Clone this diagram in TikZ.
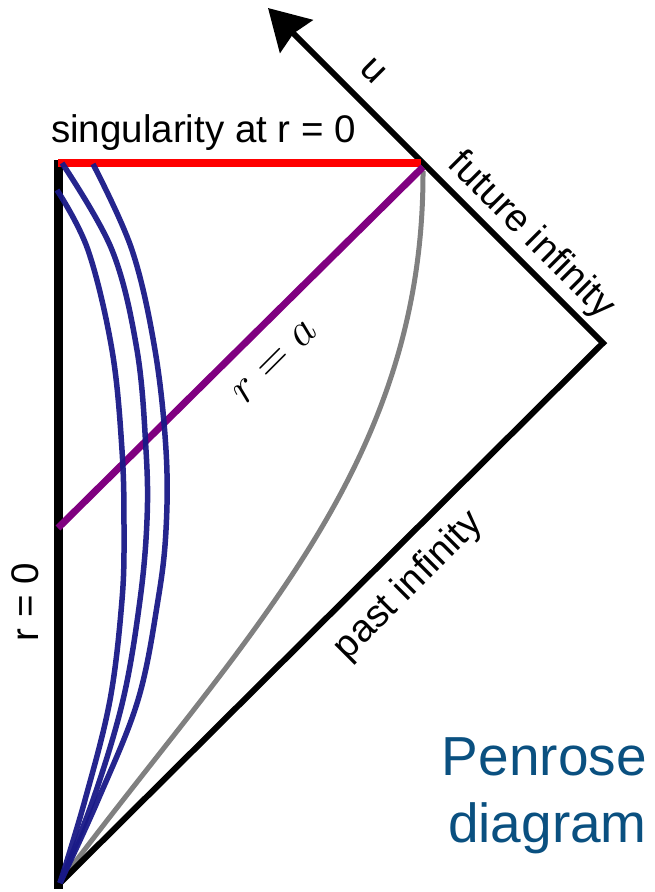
\RequirePackage{fix-cm}
\documentclass[tikz,border=0pt]{standalone}
\usepackage{fontspec}
\setmainfont{Liberation Sans}
\usetikzlibrary{arrows.meta}
\definecolor{curveblue}{RGB}{25,25,135}
\definecolor{purp}{RGB}{128,0,128}
\definecolor{penblue}{RGB}{10,80,128}
\definecolor{greyline}{RGB}{128,128,128}
\begin{document}
\begin{tikzpicture}[x=1pt,y=-1pt,
  lbl/.style={font=\fontsize{38.5}{46}\selectfont, inner sep=0pt},
  mathlbl/.style={font=\fontsize{46}{55}\selectfont, inner sep=0pt},
  titlelbl/.style={font=\fontsize{55}{66}\selectfont, inner sep=0pt, text=penblue},
  edgeline/.style={line width=6pt, black},
  worldline/.style={line width=5.5pt, curveblue, opacity=0.95, line cap=butt},
  greycurve/.style={line width=5pt, greyline},
  ]
\useasboundingbox (0,0) rectangle (654,892);
\coordinate (B) at (58,885);
\coordinate (R) at (603,343);
\coordinate (T) at (421,163);
\coordinate (tip) at (268,8);
\coordinate (L) at (58,160);
\coordinate (Lb) at (58,889);
\coordinate (S) at (58,528);
\coordinate (Ptop) at (423,167);
\coordinate (Gtop) at (423,171);

% grey curve
\draw[greycurve] (Gtop) .. controls (424,470) and (240,640) .. (B);
% left axis r = 0
\draw[line width=9pt] (L) -- (Lb);
% null boundaries with arrow u
\draw[edgeline, -{Stealth[length=40pt,width=46pt,inset=4pt]}] (B) -- (R) -- (tip);
% singularity
\draw[red, line width=8.5pt] (58,163) -- (T);
% r = a
\draw[purp, line width=7pt] (S) -- (Ptop);
% world lines
\draw[worldline] plot[smooth, tension=0.6] coordinates {(57,190) (88,250) (112,350) (122,450) (124,530) (122,600) (110,700) (85,800) (60,883)};
\draw[worldline] plot[smooth, tension=0.6] coordinates {(62,163) (112,250) (137,350) (146,450) (147,520) (140,600) (123,700) (93,800) (60,883)};
\draw[worldline] plot[smooth, tension=0.6] coordinates {(93,164) (132,250) (155,350) (166,450) (166,530) (158,600) (138,700) (98,800) (60,883)};

% labels
\node[lbl, anchor=base west] (sing) at (51,142) {singularity at r = 0};
\node[lbl, anchor=base, rotate=90] (rzero) at (38,602) {r = 0};
\node[lbl, anchor=base, rotate=-45] (fut) at (524,243) {future infinity};
\node[lbl, anchor=base, rotate=-45] (ulbl) at (366,78) {u};
\node[lbl, anchor=base, rotate=45] (past) at (416,593) {past infinity};
\node[mathlbl, anchor=center, rotate=45] (ra) at (275,362) {$r = a$};
\node[titlelbl, anchor=base east] (pen1) at (647,775) {Penrose};
\node[titlelbl, anchor=base east] (pen2) at (647,842) {diagram};
\end{tikzpicture}
\end{document}
